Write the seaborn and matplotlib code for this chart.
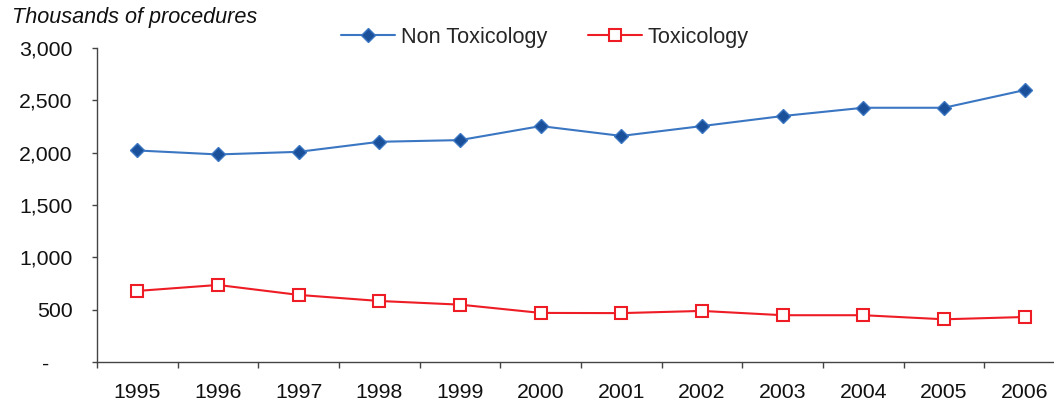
import numpy as np
import pandas as pd
import seaborn as sns
import matplotlib.pyplot as plt
from matplotlib.ticker import FuncFormatter

years = ['1995', '1996', '1997', '1998', '1999', '2000',
         '2001', '2002', '2003', '2004', '2005', '2006']
non_tox = [2021, 1983, 2008, 2104, 2120, 2254, 2160, 2254, 2350, 2429, 2429, 2598]
tox = [679, 736, 641, 583, 548, 469, 467, 488, 447, 447, 408, 430]

sns.set_theme(style='white')
plt.rcParams['font.family'] = ['Liberation Sans', 'DejaVu Sans']

df = pd.DataFrame({'pos': np.arange(len(years)), 'year': years,
                   'Non Toxicology': non_tox, 'Toxicology': tox})

fig = plt.figure(figsize=(10.54, 4.07), dpi=100)
ax = fig.add_axes([97 / 1054, 45 / 407, 968 / 1054, 314 / 407])

sns.lineplot(data=df, x='pos', y='Non Toxicology', ax=ax, color='#3a76c2', lw=1.5,
             marker='D', markersize=7.5, markerfacecolor='#1a4f99',
             markeredgecolor='#3a76c2', markeredgewidth=1.0, label='Non Toxicology')
sns.lineplot(data=df, x='pos', y='Toxicology', ax=ax, color='#ee1c25', lw=1.5,
             marker='s', markersize=8, markerfacecolor='white',
             markeredgecolor='#ee1c25', markeredgewidth=1.5, label='Toxicology')

# ticks labelled the way the spreadsheet did it: thousands separator, dash for zero
def fmt_y(v, p):
    if v == 0:
        return '-    '
    return f'{int(v):,}'

ax.set_xlim(-0.5, len(years) - 0.5)
ax.set_ylim(0, 3000)
ax.set_yticks(np.arange(0, 3001, 500))
ax.yaxis.set_major_formatter(FuncFormatter(fmt_y))
ax.set_xticks(df['pos'])
ax.set_xticklabels(years)
ax.set_xticks(np.arange(-0.5, len(years), 1), minor=True)
ax.tick_params(axis='x', which='major', length=0, pad=15, labelsize=15.3, colors='#111111')
ax.tick_params(axis='x', which='minor', length=4.3, width=1, color='#444444', direction='out', bottom=True)
ax.tick_params(axis='y', length=3.6, width=1, color='#444444', direction='out', left=True,
               labelsize=15.3, colors='#111111', pad=14)
ax.set_xlabel('')
ax.set_ylabel('')

for s in ['top', 'right']:
    ax.spines[s].set_visible(False)
for s in ['left', 'bottom']:
    ax.spines[s].set_color('#444444')
    ax.spines[s].set_linewidth(1)

fig.text(12 / 1054, 1 - 18 / 407, 'Thousands of procedures', fontsize=15.6,
         style='italic', va='center', ha='left', color='#111111')

ax.legend(loc='center', bbox_to_anchor=(545 / 1054, 1 - 37 / 407),
          bbox_transform=fig.transFigure, ncol=2, frameon=False, fontsize=15.6,
          handlelength=2.5, columnspacing=1.9, handletextpad=0.25)

fig.savefig('out.png', dpi=100)
